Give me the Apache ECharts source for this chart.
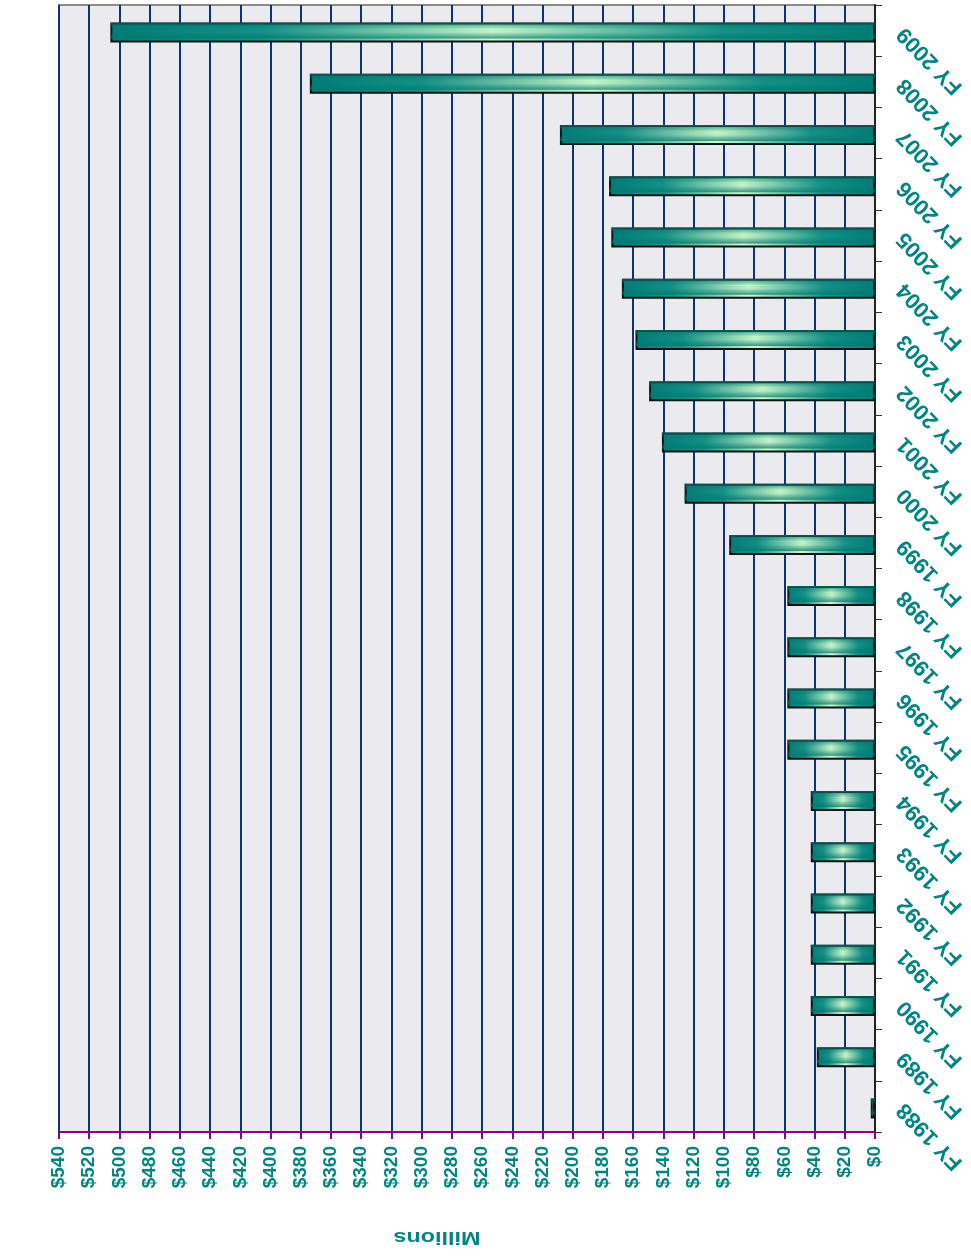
<!DOCTYPE html>
<html>
<head>
<meta charset="utf-8">
<script src="https://cdn.jsdelivr.net/npm/echarts@6/dist/echarts.min.js"></script>
<style>
  html, body { margin: 0; padding: 0; background: #fff; }
  #chart { width: 971px; height: 1257px; }
</style>
</head>
<body>
<div id="chart"></div>
<script>
// fiscal years, bottom to top
const years = ['FY 1988', 'FY 1989', 'FY 1990', 'FY 1991', 'FY 1992', 'FY 1993', 'FY 1994',
  'FY 1995', 'FY 1996', 'FY 1997', 'FY 1998', 'FY 1999', 'FY 2000', 'FY 2001', 'FY 2002',
  'FY 2003', 'FY 2004', 'FY 2005', 'FY 2006', 'FY 2007', 'FY 2008', 'FY 2009']
// millions of dollars
const amounts = [2.8, 38.5, 42.5, 42.5, 42.5, 42.5, 42.5,
  58, 58, 58, 58, 96.5, 126, 141, 149.5,
  158.5, 167.5, 174.5, 176, 208.5, 374, 506]
const valueMin = 0
const valueMax = 540
const valueStep = 20

const teal = '#008580'
const chart = echarts.init(document.getElementById('chart'))

chart.setOption({
  animation: false,
  grid: {
    left: 59, right: 96, top: 5, bottom: 125,
    show: true,
    backgroundColor: '#ebebef',
    borderColor: '#8c8c8c',
    borderWidth: 2
  },
  xAxis: {
    type: 'value',
    position: 'bottom',
    inverse: true,
    min: valueMin,
    max: valueMax,
    interval: valueStep,
    axisLine: { show: true, lineStyle: { color: '#8b008b', width: 2 } },
    axisTick: { show: true, length: 7, lineStyle: { color: '#8b008b', width: 2 } },
    axisLabel: {
      rotate: 90,
      margin: 14,
      color: teal,
      fontFamily: 'Liberation Sans, Arial',
      fontWeight: 'bold',
      fontSize: 19,
      formatter: v => '$' + v
    },
    splitLine: { show: true, lineStyle: { color: '#0b3470', width: 2 } }
  },
  yAxis: {
    type: 'category',
    position: 'right',
    data: years,
    axisLine: { show: true, lineStyle: { color: '#222', width: 2 } },
    axisTick: { show: true, length: 7, lineStyle: { color: '#333', width: 1 } },
    axisLabel: {
      rotate: 134,
      margin: 26,
      color: teal,
      fontFamily: 'Liberation Sans, Arial',
      fontWeight: 'bold',
      fontSize: 22
    },
    splitLine: { show: false }
  },
  series: [
    {
      type: 'bar',
      data: amounts,
      barWidth: 20,
      itemStyle: {
        borderColor: '#111',
        borderWidth: 2,
        color: new echarts.graphic.LinearGradient(0, 0, 1, 0, [
          { offset: 0, color: '#007d77' },
          { offset: 0.2, color: '#169186' },
          { offset: 0.5, color: '#ccfacb' },
          { offset: 0.8, color: '#169186' },
          { offset: 1, color: '#007d77' }
        ])
      }
    },
    {
      // vertical shading on top of the bars
      type: 'bar',
      data: amounts,
      barWidth: 16,
      barGap: '-100%',
      silent: true,
      z: 3,
      itemStyle: {
        color: new echarts.graphic.LinearGradient(0, 0, 0, 1, [
          { offset: 0, color: 'rgba(0,120,112,0.75)' },
          { offset: 0.4, color: 'rgba(0,120,112,0.05)' },
          { offset: 0.6, color: 'rgba(0,120,112,0.05)' },
          { offset: 1, color: 'rgba(0,120,112,0.75)' }
        ])
      }
    }
  ],
  graphic: [
    {
      type: 'text',
      x: 437,
      y: 1237,
      rotation: Math.PI,
      scaleX: 1.3,
      style: {
        text: 'Millions',
        fill: teal,
        font: 'bold 18px "Liberation Sans", Arial',
        textAlign: 'center',
        textVerticalAlign: 'middle'
      }
    }
  ]
})
</script>
</body>
</html>
